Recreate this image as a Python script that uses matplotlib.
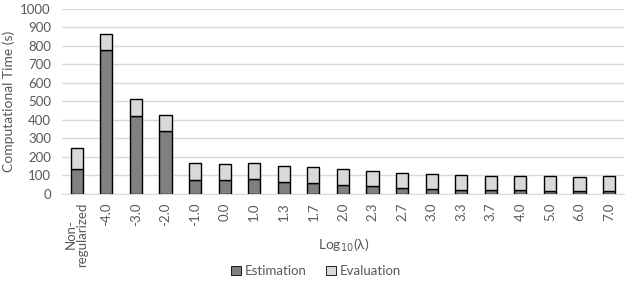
import numpy as np
import matplotlib
matplotlib.use("Agg")
import matplotlib.pyplot as plt

plt.rcParams['font.family'] = ['Lato', 'DejaVu Sans']

categories = ['Non-\nregularized', '-4.0', '-3.0', '-2.0', '-1.0', '0.0', '1.0', '1.3', '1.7',
              '2.0', '2.3', '2.7', '3.0', '3.3', '3.7', '4.0', '5.0', '6.0', '7.0']
# totals and estimation part
total = [247, 863, 512, 425, 166, 160, 166, 150, 144,
         133, 123, 112, 106, 101, 95, 95, 95, 90, 95]
estimation = [133, 778, 420, 339, 74, 74, 79, 63, 58,
              47, 41, 31, 25, 20, 20, 20, 14, 14, 14]
evaluation = [t - e for t, e in zip(total, estimation)]

txt = '#595959'
fig = plt.figure(figsize=(6.36, 2.86), dpi=100)
ax = fig.add_axes([0.0975, 0.322, 0.8835, 0.6465])

x = np.arange(len(categories))
w = 0.41
ax.bar(x, estimation, w, color='#808080', edgecolor='black', linewidth=1.0, label='Estimation', zorder=3)
ax.bar(x, evaluation, w, bottom=estimation, color='#d9d9d9', edgecolor='black', linewidth=1.0,
       label='Evaluation', zorder=3)

ax.set_xlim(-0.5, len(categories) - 0.5)
ax.set_ylim(0, 1000)
ax.set_yticks(range(0, 1001, 100))
ax.yaxis.grid(True, color='#d9d9d9', linewidth=1.0, zorder=0)
ax.set_axisbelow(True)
for s in ['top', 'right', 'left']:
    ax.spines[s].set_visible(False)
ax.spines['bottom'].set_color('#d9d9d9')
ax.tick_params(axis='both', length=0, colors=txt, labelsize=9.5)
ax.tick_params(axis='y', pad=8)
ax.tick_params(axis='x', pad=6)
ax.set_xticks(x)
ax.set_xticklabels(categories, rotation=90, linespacing=0.95)
ax.set_ylabel('Computational Time (s)', color=txt, fontsize=10, labelpad=4)
fig.text(0.541, 0.143, 'Log$_{10}$(λ)', color=txt, fontsize=10, ha='center', va='center')

leg = fig.legend(loc='center', bbox_to_anchor=(0.497, 0.052), ncol=2, frameon=False,
                 fontsize=9.5, handlelength=0.7, handleheight=0.7, handletextpad=0.3,
                 columnspacing=1.5, labelcolor=txt)
for h in leg.legend_handles:
    h.set_linewidth(0.6)

fig.savefig('out.png', dpi=100)
